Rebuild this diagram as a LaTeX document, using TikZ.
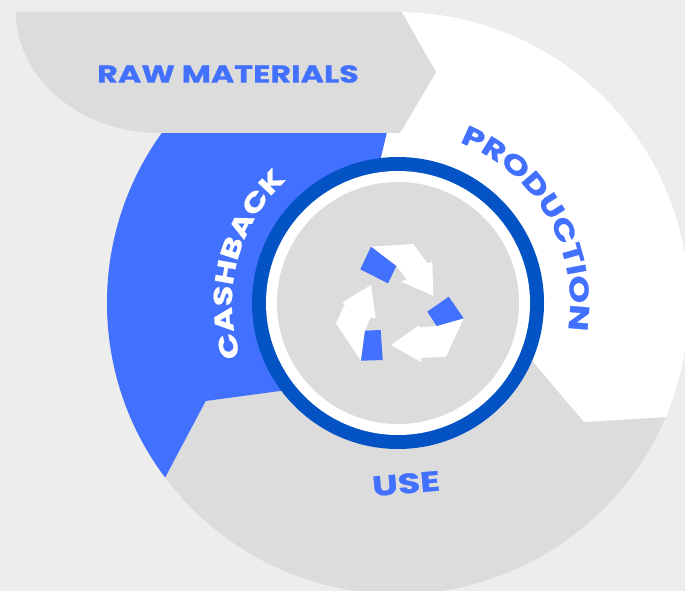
\documentclass[tikz,border=0pt]{standalone}
\usepackage{fontspec}
\usetikzlibrary{decorations.text}
\newfontfamily\heavy[FakeStretch=1.3,BoldFeatures={FakeBold=0.8}]{Poppins}
\definecolor{bgc}{HTML}{EDEDED}
\definecolor{grayc}{HTML}{DCDCDC}
\definecolor{bluec}{HTML}{4270FF}
\definecolor{deepc}{HTML}{0353C4}
\newcommand{\lbl}[1]{\heavy\bfseries\fontsize{#1}{#1}\selectfont}
\tikzset{
  x=1pt,y=-1pt,
  label text/.style={inner sep=0pt,text=bluec}
}
\begin{document}
\begin{tikzpicture}
\useasboundingbox (0,0) rectangle (685,591);
\fill[bgc] (0,0) rectangle (685,591);
\begin{scope}
  \clip (398,303) circle[radius=291pt];
  \fill[grayc] (0,0) rectangle (800,700);
  \fill[white] (402,0) -- (402,12) -- (436,72) -- (400,133) -- (386.7,133) -- (378,170) -- (398,303)
     -- (533,361.7) -- (584,422) -- (666.7,417) -- (800,409) -- (800,0) -- cycle;
  \fill[bluec] (386.7,133) -- (0,133) -- (0,600) -- (150,506) -- (205.7,401) -- (282,390.7) -- (398,303) -- (378,170) -- cycle;
\end{scope}
\fill[grayc] (16,12) -- (400,12) -- (436,72) -- (400,133) -- (160,133)
   .. controls (80.5,133) and (16,78.8) .. (16,12) -- cycle;
\fill[deepc] (398,303) circle[radius=146pt];
\fill[white] (398,303) circle[radius=132pt];
\fill[grayc] (398,303) circle[radius=121pt];
% recycling icon
\fill[white] (371,246.7) -- (413.3,244) -- (427.3,263.3) -- (432.3,261.7) -- (433.3,295.7) -- (401,281.7) -- (406.7,279.3) -- (396.3,266) -- cycle;
\fill[bluec] (371,246.7) -- (396.3,266) -- (388,283.3) -- (360.3,269.3) -- cycle;
\fill[white] (463.7,318.3) -- (446,356.7) -- (421,358) -- (421,362) -- (391,345) -- (419,325.3) -- (420,327.3) -- (436.7,326) -- cycle;
\fill[bluec] (427.3,311.7) -- (448.7,296.7) -- (463.7,318.3) -- (436.7,326) -- cycle;
\fill[white] (361,360.7) -- (336,323.3) -- (345,304) -- (341.7,302.7) -- (371,285) -- (375.7,318.3) -- (370.7,317.3) -- (365,330.7) -- cycle;
\fill[bluec] (365,330.7) -- (380.7,330) -- (382.7,360) -- (361,360.7) -- cycle;
% labels
\node[label text,font=\lbl{24.5}] (raw) at (228,74) {RAW MATERIALS};
\node[label text,font=\lbl{28},rotate=5] (use) at (406,483.5) {USE};
\path[decorate,decoration={text along path,text align=center,text color=bluec,text={|\lbl{27}|PRODUCTION}}]
  ([shift={(75:172pt)}]398pt,-303pt) arc[start angle=75,end angle=-15,radius=172pt];
\path[decorate,decoration={text along path,text align=center,text color=white,text={|\lbl{26}|CASHBACK}}]
  ([shift={(203:166pt)}]398pt,-303pt) arc[start angle=203,end angle=128,radius=166pt];
\end{tikzpicture}
\end{document}
